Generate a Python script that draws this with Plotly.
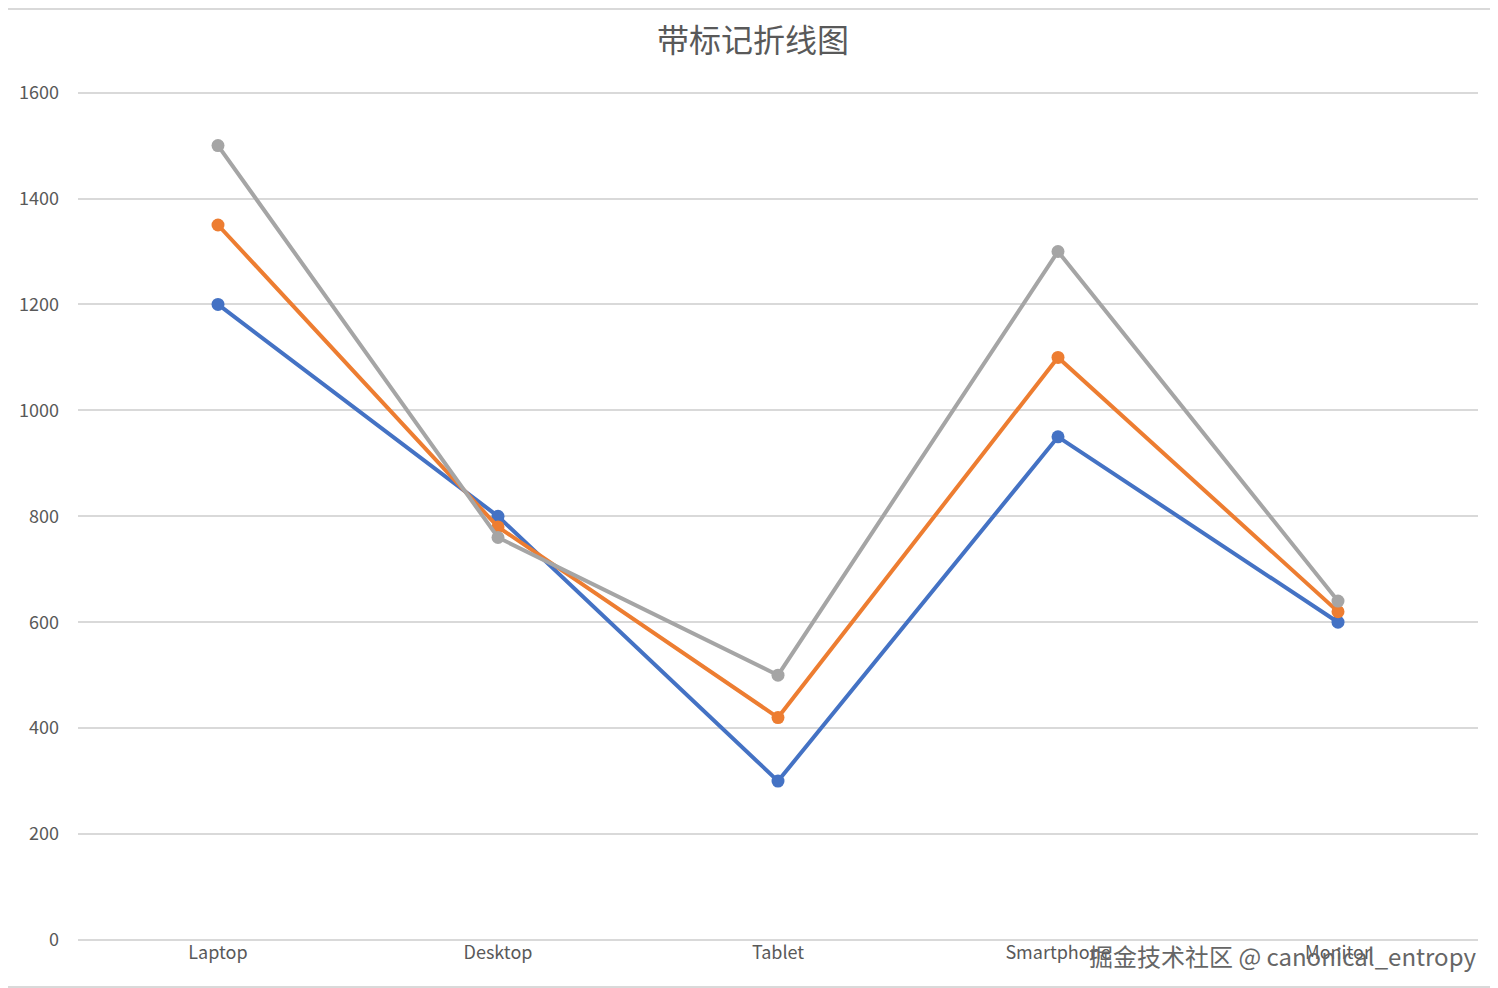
import plotly.graph_objects as go

categories = ["Laptop", "Desktop", "Tablet", "Smartphone", "Monitor"]
series_1 = [1200, 800, 300, 950, 600]
series_2 = [1350, 780, 420, 1100, 620]
series_3 = [1500, 760, 500, 1300, 640]
y_ticks = [0, 200, 400, 600, 800, 1000, 1200, 1400, 1600]

colors = ["#4472C4", "#ED7D31", "#A5A5A5"]

fig = go.Figure()
for vals, col in zip([series_1, series_2, series_3], colors):
    fig.add_trace(go.Scatter(
        x=categories, y=vals, mode="lines+markers",
        line=dict(color=col, width=4),
        marker=dict(color=col, size=13),
        showlegend=False,
        cliponaxis=False,
    ))

# page body adds ~8px offset, so shrink the figure accordingly
fig.update_layout(
    width=1490, height=980,
    margin=dict(l=70, r=20, t=83, b=48),
    paper_bgcolor="white", plot_bgcolor="white",
    font=dict(family="Noto Sans CJK SC, DejaVu Sans", color="#595959", size=18),
    title=dict(text="带标记折线图", x=0.5, xanchor="center", y=0.967, yanchor="middle",
               font=dict(size=32, color="#595959")),
    xaxis=dict(type="category", range=[-0.5, 4.5], showgrid=False,
               showline=False, ticks="", tickfont=dict(size=18)),
    yaxis=dict(range=[0, 1603], tickvals=y_ticks, gridcolor="#D9D9D9", gridwidth=1.5,
               zeroline=True, zerolinecolor="#D9D9D9", zerolinewidth=1.5,
               ticks="", ticklabelstandoff=18, tickfont=dict(size=18)),
    shapes=[dict(type="rect", xref="paper", yref="paper", x0=-77/1400, x1=1+19/1400,
                 y0=-47/849, y1=1+82/849, line=dict(color="#D9D9D9", width=2))],
    annotations=[dict(text="掘金技术社区 @ canonical_entropy", xref="paper", yref="paper",
                      x=1, y=-0.018, xanchor="right", yanchor="middle", showarrow=False,
                      font=dict(size=24, color="#666666"))],
)

fig.write_html("out.html")
